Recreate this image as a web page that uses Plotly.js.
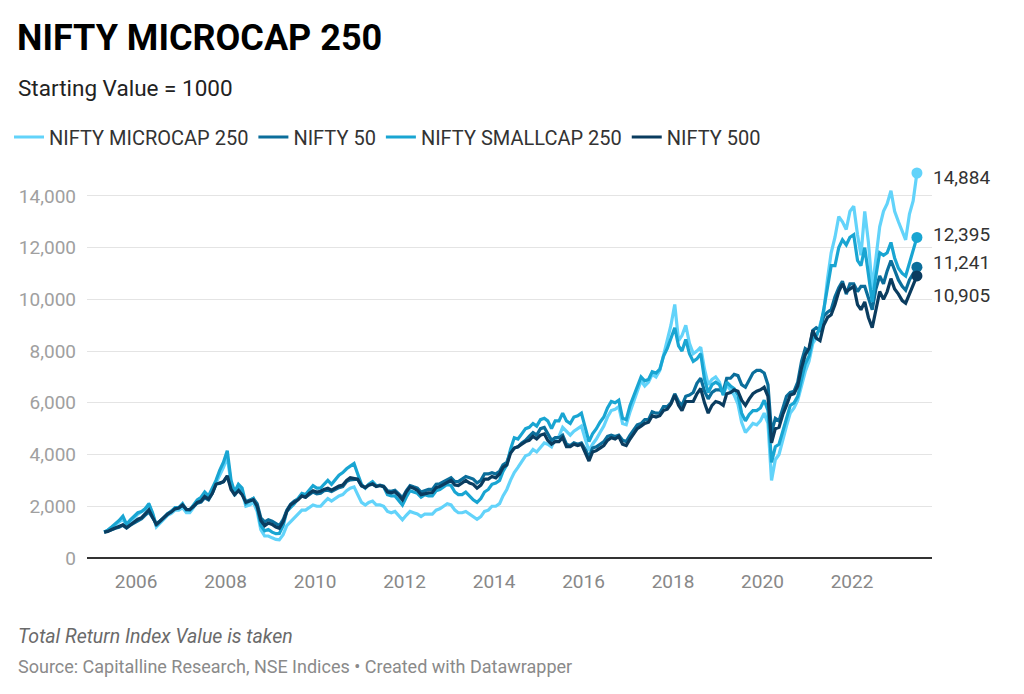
<!DOCTYPE html>
<html>
<head>
<meta charset="utf-8">
<script src="https://cdn.plot.ly/plotly-3.0.1.min.js"></script>
<style>
  html, body { margin: 0; padding: 0; background: #fff; }
  #chart { width: 1024px; height: 694px; }
</style>
</head>
<body>
<div id="chart"></div>
<script>
// Monthly observations, mid-month, Apr 2005 .. Jun 2023
const startYear = 2005, startMonth = 4;

const seriesNames = ["NIFTY MICROCAP 250", "NIFTY 50", "NIFTY SMALLCAP 250", "NIFTY 500"];
const seriesColors = ["#62d3fa", "#0b6e9b", "#19a5d2", "#0a3c5f"];

const microcap = [
  1000, 1060, 1170, 1280, 1380, 1500, 1250, 1420, 1550,
  1700, 1780, 1870, 2050, 1700, 1200, 1350, 1500, 1650, 1720, 1850, 1850,
  1950, 1750, 1750, 1950, 2150, 2250, 2450, 2300, 2600, 2900, 3200, 3500,
  3900, 2900, 2400, 2700, 2550, 2000, 2050, 2150, 1800, 1100, 850, 850,
  780, 720, 700, 900, 1250, 1400, 1550, 1700, 1850, 1850, 1950, 2050,
  2000, 2000, 2150, 2300, 2200, 2300, 2400, 2450, 2600, 2700, 2750, 2450,
  2150, 2050, 2150, 2200, 2050, 2050, 2000, 1800, 1750, 1800, 1650, 1480,
  1650, 1800, 1750, 1700, 1600, 1700, 1700, 1700, 1850, 1900, 2000, 2100,
  2050, 1850, 1750, 1750, 1800, 1700, 1600, 1500, 1600, 1800, 1850, 2000,
  2000, 2100, 2400, 2650, 3000, 3300, 3500, 3700, 3950, 4000, 4200, 4100,
  4300, 4450, 4400, 4300, 4600, 4700, 5050, 4900, 4750, 4900, 5000, 5100,
  4600, 4150, 4400, 4600, 4850, 5100, 5450, 5700, 5750, 5850, 5200, 5150,
  5650, 6050, 6400, 6850, 6650, 6800, 7100, 7000, 7250, 7850, 8350, 9000,
  9800, 8400, 8600, 9000, 8300, 7900, 8000, 8150, 7300, 6700, 6900, 7000,
  6800, 6300, 6700, 6500, 6300, 5950, 5250, 4850, 5050, 5200, 5150, 5300,
  5600, 5200, 3000, 3800, 4000, 4600, 5100, 5600, 5800, 6100, 6700, 7200,
  7600, 8300, 8500, 9000, 9500, 10800, 11800, 12400, 13200, 13000, 12700, 13400,
  13600, 12500, 11700, 13400, 12200, 10400, 11700, 12800, 13400, 13700, 14200, 13400,
  13000, 12600, 12300, 13300, 13800, 14884
];

const nifty50 = [
  1000, 1030, 1090, 1150, 1190, 1270, 1160, 1270, 1350,
  1450, 1520, 1650, 1780, 1560, 1330, 1430, 1560, 1720, 1810, 1920, 1940,
  2040, 1880, 1870, 2000, 2120, 2160, 2330, 2250, 2500, 2870, 2880, 2950,
  3150, 2750, 2500, 2650, 2500, 2180, 2250, 2300, 2100, 1550, 1400, 1480,
  1420, 1330, 1250, 1480, 1850, 2080, 2200, 2280, 2400, 2350, 2470, 2550,
  2480, 2500, 2600, 2620, 2570, 2660, 2720, 2760, 2960, 3020, 3050, 3050,
  2780, 2720, 2820, 2850, 2780, 2820, 2780, 2600, 2580, 2620, 2480, 2330,
  2600, 2800, 2750, 2700, 2550, 2600, 2650, 2650, 2850, 2870, 2950, 3020,
  3100, 2950, 2950, 3050, 3150, 3100, 3050, 2900, 3000, 3250, 3250, 3300,
  3250, 3350, 3600, 3700, 4100, 4250, 4300, 4450, 4550, 4700, 4850, 4750,
  5000, 5050, 4800, 4550, 4650, 4650, 4750, 4400, 4350, 4450, 4400, 4450,
  4200, 3900, 4250, 4300, 4400, 4500, 4700, 4750, 4700, 4750, 4550, 4500,
  4750, 4950, 5150, 5200, 5350, 5350, 5650, 5600, 5600, 5850, 5850, 6000,
  6350, 6050, 5900, 6250, 6300, 6400, 6750, 6950, 6450, 6150, 6400, 6500,
  6500, 6450, 6950, 6950, 7100, 7050, 6700, 6600, 6900, 7150, 7250, 7250,
  7150, 6700, 4850, 5400, 5300, 5800, 6250, 6400, 6450, 6800, 7600, 8100,
  8000, 8800, 8900, 8800, 9350, 9500, 9600, 10100, 10450, 10700, 10200, 10600,
  10600, 10300, 10500, 10500, 10100, 9600, 10400, 10900, 10600, 11100, 11500, 11100,
  10750, 10500, 10350, 10750, 11000, 11241
];

const smallcap = [
  1000, 1080, 1200, 1320, 1450, 1620, 1300, 1480, 1600,
  1750, 1800, 1900, 2100, 1750, 1250, 1400, 1550, 1720, 1800, 1950, 1950,
  2100, 1850, 1850, 2050, 2250, 2350, 2550, 2400, 2700, 3000, 3400, 3700,
  4150, 3000, 2550, 2850, 2700, 2100, 2200, 2300, 1950, 1250, 1050, 1100,
  1000, 940, 950, 1250, 1800, 1950, 2100, 2300, 2500, 2450, 2650, 2800,
  2700, 2700, 2850, 3000, 2850, 3050, 3200, 3300, 3450, 3550, 3650, 3250,
  2850, 2700, 2850, 2950, 2800, 2800, 2750, 2450, 2400, 2400, 2200, 2050,
  2350, 2600, 2550, 2500, 2350, 2450, 2400, 2400, 2600, 2650, 2750, 2850,
  2800, 2550, 2450, 2450, 2550, 2400, 2250, 2150, 2300, 2550, 2650, 2850,
  2900, 3000, 3350, 3600, 4200, 4650, 4600, 4800, 5000, 5050, 5200, 5100,
  5350, 5400, 5300, 5000, 5300, 5300, 5600, 5300, 5200, 5450, 5500, 5600,
  5000, 4500, 4800, 5000, 5250, 5450, 5800, 6050, 6000, 6100, 5400, 5350,
  5900, 6300, 6600, 7000, 6850, 6900, 7200, 7150, 7300, 7800, 8100, 8500,
  8900, 8200, 8000, 8450, 7900, 7600, 7700, 7900, 6900, 6400, 6700, 6800,
  6700, 6300, 6800, 6650, 6550, 6300, 5600, 5300, 5550, 5700, 5700, 5800,
  6100, 5700, 3700, 4300, 4400, 4900, 5400, 5900, 6000, 6250, 6900, 7500,
  7800, 8500, 8600, 8900, 9600, 10400, 11300, 11300, 12000, 12300, 12100, 12400,
  12500, 11500, 11300, 12000, 10900, 9900, 10900, 11800, 11700, 11800, 12200, 11600,
  11200, 11000, 10900, 11400, 11900, 12395
];

const nifty500 = [
  1000, 1030, 1100, 1160, 1210, 1280, 1170, 1290, 1380,
  1500, 1560, 1700, 1860, 1580, 1300, 1420, 1560, 1700, 1780, 1900, 1930,
  2050, 1880, 1870, 2000, 2150, 2200, 2380, 2280, 2500, 2850, 2900, 2950,
  3180, 2650, 2450, 2600, 2450, 2150, 2200, 2250, 2000, 1450, 1250, 1350,
  1300, 1200, 1150, 1400, 1800, 2050, 2150, 2250, 2400, 2350, 2500, 2600,
  2550, 2580, 2650, 2700, 2620, 2720, 2780, 2820, 3000, 3100, 3080, 3050,
  2800, 2720, 2820, 2870, 2760, 2800, 2760, 2550, 2520, 2560, 2420, 2250,
  2550, 2750, 2700, 2620, 2450, 2500, 2520, 2530, 2720, 2760, 2860, 2920,
  3000, 2820, 2800, 2900, 3000, 2900, 2850, 2700, 2820, 3050, 3050, 3150,
  3100, 3250, 3500, 3600, 4050, 4250, 4300, 4400, 4500, 4550, 4700, 4600,
  4750, 4800, 4550, 4400, 4500, 4500, 4650, 4300, 4300, 4400, 4350, 4400,
  4100, 3750, 4100, 4150, 4250, 4350, 4550, 4650, 4600, 4700, 4400, 4350,
  4600, 4800, 5000, 5100, 5200, 5250, 5500, 5450, 5500, 5700, 5750, 5950,
  6300, 5900, 5700, 6050, 6050, 6050, 6350, 6550, 6000, 5600, 5900, 6050,
  6000, 5900, 6350, 6400, 6500, 6450, 6100, 5900, 6150, 6350, 6450, 6500,
  6600, 6250, 4450, 5000, 5050, 5550, 5900, 6300, 6350, 6650, 7350, 7850,
  8100, 8800, 8500, 8400, 9000, 9300, 9400, 9800, 10300, 10600, 10300, 10400,
  10500, 9800, 9600, 9900, 9300, 8900, 9600, 10300, 10000, 10300, 10800, 10400,
  10200, 9950, 9850, 10200, 10500, 10905
];

const yTicks = [0, 2000, 4000, 6000, 8000, 10000, 12000, 14000];
const titleText = "NIFTY MICROCAP 250";
const subtitleText = "Starting Value = 1000";
const noteText = "Total Return Index Value is taken";
const sourceText = "Source: Capitalline Research, NSE Indices • Created with Datawrapper";

const allSeries = [microcap, nifty50, smallcap, nifty500];
const endLabelShift = [-4, 5, 3, -20];

// plot-area geometry (pixels) used to place the page texts in paper units
const PL = 87, PR = 932, PT = 170, PB = 558;
const px2paperX = p => (p - PL) / (PR - PL);
const py2paperY = p => (PB - p) / (PB - PT);

function monthDates(n) {
  const out = [];
  for (let i = 0; i < n; i++) {
    const m0 = startMonth - 1 + i;
    const y = startYear + Math.floor(m0 / 12);
    const m = (m0 % 12) + 1;
    out.push(y + "-" + String(m).padStart(2, "0") + "-15");
  }
  return out;
}

const FONT = "Roboto, 'Noto Sans', sans-serif";
const traces = [];
const annotations = [];

allSeries.forEach((vals, i) => {
  const x = monthDates(vals.length);
  traces.push({
    type: "scatter", mode: "lines", name: seriesNames[i],
    x: x, y: vals,
    line: { color: seriesColors[i], width: 3.2, shape: "linear" },
    hoverinfo: "skip"
  });
});
allSeries.forEach((vals, i) => {
  const x = monthDates(vals.length);
  const lx = x[x.length - 1], ly = vals[vals.length - 1];
  traces.push({
    type: "scatter", mode: "markers", showlegend: false,
    x: [lx], y: [ly], cliponaxis: false,
    marker: { color: seriesColors[i], size: 11 },
    hoverinfo: "skip"
  });
  annotations.push({
    xref: "x", yref: "y", x: lx, y: ly,
    xanchor: "left", yanchor: "middle", xshift: 14, yshift: endLabelShift[i],
    text: ly.toLocaleString("en-US"), showarrow: false,
    font: { family: FONT, size: 19, color: "#333333" }
  });
});

annotations.push(
  {
    xref: "paper", yref: "paper", x: px2paperX(16), y: py2paperY(88),
    xanchor: "left", yanchor: "middle", showarrow: false,
    text: subtitleText, font: { family: FONT, size: 22.5, color: "#222222" }
  },
  {
    xref: "paper", yref: "paper", x: px2paperX(16), y: py2paperY(636),
    xanchor: "left", yanchor: "middle", showarrow: false,
    text: "<i>" + noteText + "</i>", font: { family: FONT, size: 19.5, color: "#6a6a6a" }
  },
  {
    xref: "paper", yref: "paper", x: px2paperX(16), y: py2paperY(666),
    xanchor: "left", yanchor: "middle", showarrow: false,
    text: sourceText, font: { family: FONT, size: 18, color: "#8a8a8a" }
  }
);

const layout = {
  width: 1024, height: 694,
  paper_bgcolor: "#ffffff", plot_bgcolor: "#ffffff",
  margin: { l: PL, r: 1024 - PR, t: PT, b: 694 - PB, pad: 0 },
  title: {
    text: "<b>" + titleText + "</b>",
    xref: "container", yref: "container", x: 17/1024, y: 1 - 37/694,
    xanchor: "left", yanchor: "middle",
    font: { family: FONT, size: 36, color: "#000000" }
  },
  showlegend: true,
  legend: {
    orientation: "h", xref: "container", yref: "container",
    x: 9/1024, y: 1 - 137/694, xanchor: "left", yanchor: "middle",
    font: { family: FONT, size: 20, color: "#333333" },
    itemwidth: 30, traceorder: "normal", bgcolor: "rgba(0,0,0,0)"
  },
  xaxis: {
    type: "date",
    range: ["2004-11-26", "2023-10-16"],
    tick0: "2006-01-01", dtick: "M24", tickformat: "%Y",
    showgrid: false, zeroline: false, showline: false,
    ticks: "", ticklabelstandoff: 10,
    tickfont: { family: FONT, size: 19, color: "#888888" },
    fixedrange: true
  },
  yaxis: {
    range: [0, 15000],
    tickvals: yTicks, tickformat: ",",
    showgrid: true, gridcolor: "#e4e4e4", gridwidth: 1,
    zeroline: true, zerolinecolor: "#333333", zerolinewidth: 1.5,
    showline: false, ticks: "", ticklabelstandoff: 10,
    tickfont: { family: FONT, size: 19, color: "#a0a0a0" },
    fixedrange: true
  },
  annotations: annotations,
  hovermode: false
};

Plotly.newPlot("chart", traces, layout, { displayModeBar: false, staticPlot: true });
</script>
</body>
</html>
